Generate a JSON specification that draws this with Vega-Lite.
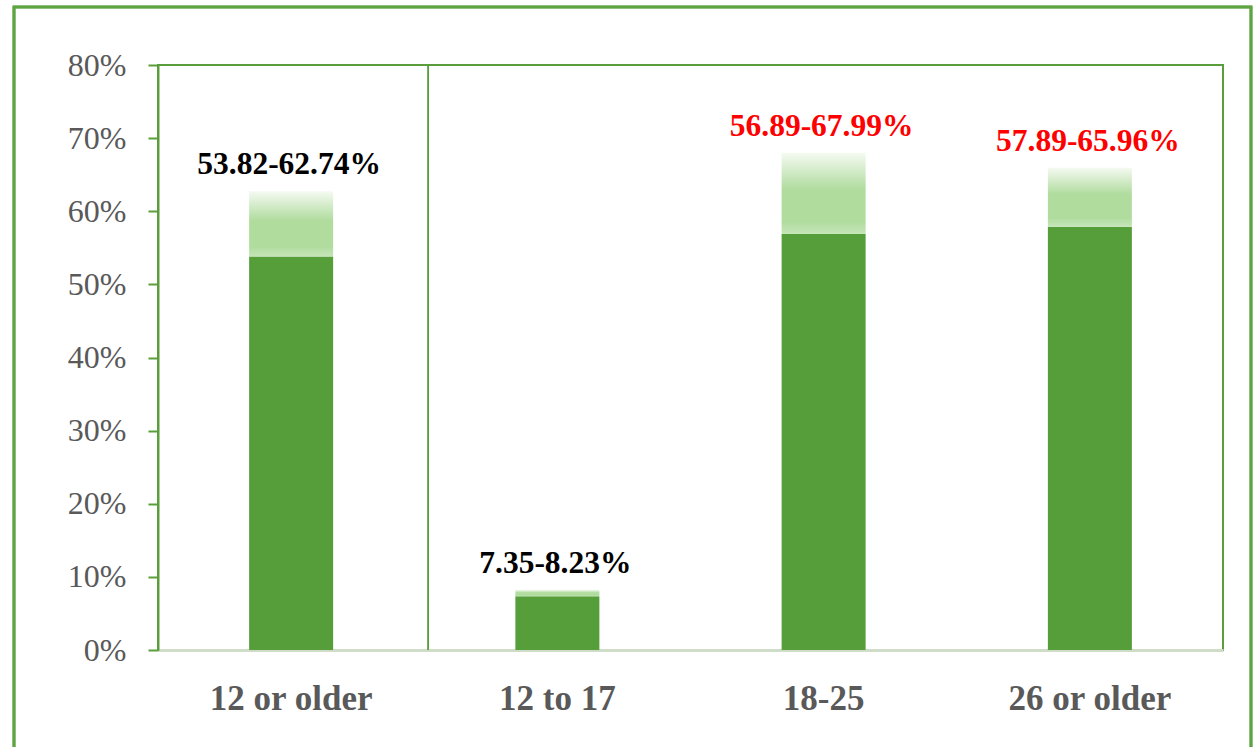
{
  "$schema": "https://vega.github.io/schema/vega-lite/v6.json",
  "autosize": "none",
  "width": 1065,
  "height": 585,
  "padding": {"left": 158, "top": 65, "right": 37, "bottom": 97},
  "background": "white",
  "config": {
    "view": {"stroke": "#5A9E3C", "strokeWidth": 2},
    "font": "Liberation Serif"
  },
  "data": {
    "values": [
      {"age": "12 or older", "lo": 53.82, "hi": 62.74, "label": "53.82-62.74%", "highlight": "no"},
      {"age": "12 to 17", "lo": 7.35, "hi": 8.23, "label": "7.35-8.23%", "highlight": "no"},
      {"age": "18-25", "lo": 56.89, "hi": 67.99, "label": "56.89-67.99%", "highlight": "yes"},
      {"age": "26 or older", "lo": 57.89, "hi": 65.96, "label": "57.89-65.96%", "highlight": "yes"}
    ]
  },
  "encoding": {
    "x": {
      "field": "age", "type": "nominal", "sort": null,
      "scale": {"domain": ["12 or older", "12 to 17", "18-25", "26 or older"], "paddingInner": 0, "paddingOuter": 0},
      "axis": {
        "title": null, "labelAngle": 0, "labelFont": "Liberation Serif", "labelFontSize": 35,
        "labelFontWeight": "bold", "labelColor": "#595959", "labelPadding": 31,
        "ticks": false, "domainColor": "#CFDCC8", "domainWidth": 3
      }
    }
  },
  "layer": [
    {
      "mark": {"type": "rect", "fill": null, "stroke": "#5EA443", "strokeWidth": 2.5},
      "encoding": {
        "x": {"value": -144}, "x2": {"value": 1093},
        "y": {"value": -58}, "y2": {"value": 720}
      }
    },
    {
      "mark": {"type": "rule", "color": "#5A9E3C", "strokeWidth": 1.2, "xOffset": 4},
      "encoding": {
        "x": {"datum": "12 to 17", "type": "nominal", "bandPosition": 0}
      }
    },
    {
      "mark": {"type": "bar", "size": 84, "color": "#559E3A"},
      "encoding": {
        "y": {
          "field": "lo", "type": "quantitative",
          "scale": {"domain": [0, 80]},
          "axis": {
            "title": null, "values": [0, 10, 20, 30, 40, 50, 60, 70, 80],
            "labelExpr": "datum.value + '%'", "labelFont": "Liberation Serif",
            "labelFontSize": 32, "labelColor": "#595959", "labelPadding": 22,
            "tickSize": 10, "tickColor": "#5A9E3C", "tickWidth": 2,
            "domainColor": "#5A9E3C", "domainWidth": 2, "grid": false
          }
        },
        "y2": {"datum": 0}
      }
    },
    {
      "mark": {
        "type": "bar", "size": 84,
        "color": {
          "gradient": "linear", "x1": 0, "y1": 1, "x2": 0, "y2": 0,
          "stops": [
            {"offset": 0, "color": "#C6E5B9"},
            {"offset": 0.15, "color": "#B0DC9E"},
            {"offset": 0.55, "color": "#B0DC9E"},
            {"offset": 1, "color": "#F5FAF2"}
          ]
        }
      },
      "encoding": {
        "y": {"field": "lo", "type": "quantitative"},
        "y2": {"field": "hi"}
      }
    },
    {
      "mark": {"type": "text", "dy": -17, "dx": -2, "baseline": "alphabetic", "fontSize": 31.5, "fontWeight": "bold", "font": "Liberation Serif"},
      "encoding": {
        "y": {"field": "hi", "type": "quantitative"},
        "text": {"field": "label"},
        "color": {
          "condition": {"test": "datum.highlight === 'yes'", "value": "#FF0000"},
          "value": "#000000"
        }
      }
    }
  ]
}
